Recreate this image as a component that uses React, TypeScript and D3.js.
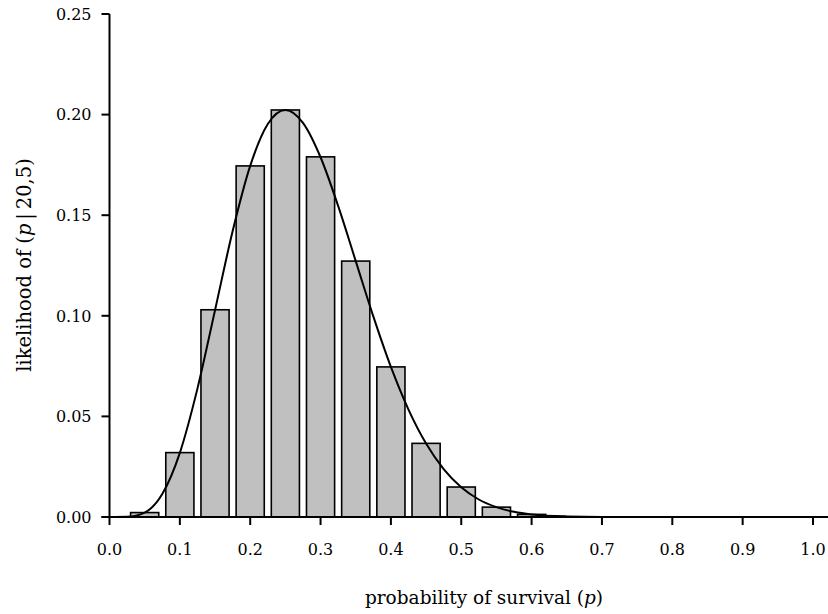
import React from 'react';
import * as d3 from 'd3';

// bar centres and heights (likelihood at each p)
const barP = [0.05, 0.1, 0.15, 0.2, 0.25, 0.3, 0.35, 0.4, 0.45, 0.5, 0.55, 0.6];
const barL = [0.0022, 0.032, 0.103, 0.1745, 0.2023, 0.179, 0.1272, 0.0746, 0.0366, 0.0149, 0.0049, 0.0013];

// smooth likelihood curve
const curveP = [0, 0.025, 0.05, 0.075, 0.1, 0.125, 0.15, 0.175, 0.2, 0.225, 0.25, 0.275, 0.3, 0.325, 0.35,
  0.375, 0.4, 0.425, 0.45, 0.475, 0.5, 0.525, 0.55, 0.575, 0.6, 0.65, 0.7, 0.8, 0.9, 1.0];
const curveL = [0, 0.0001, 0.0022, 0.0114, 0.0319, 0.0638, 0.1028, 0.142, 0.1745, 0.1953, 0.2023, 0.1959,
  0.1788, 0.1546, 0.1272, 0.0997, 0.0746, 0.0534, 0.0365, 0.0238, 0.0148, 0.0087, 0.0049, 0.0026, 0.0013,
  0.0003, 0.00004, 0, 0, 0];

const xTicks = [0, 0.1, 0.2, 0.3, 0.4, 0.5, 0.6, 0.7, 0.8, 0.9, 1.0];
const yTicks = [0, 0.05, 0.1, 0.15, 0.2, 0.25];

const W = 828;
const H = 614;
const font = '"DejaVu Serif", "Liberation Serif", serif';

export default function App() {
  const x = d3.scaleLinear().domain([0, 1]).range([109.5, 813]);
  const y = d3.scaleLinear().domain([0, 0.25]).range([517, 14]);
  const bw = x(0.04) - x(0);

  const line = d3.line<number>()
    .x((d, i) => x(curveP[i]))
    .y((d) => y(d))
    .curve(d3.curveMonotoneX);

  return (
    <svg width={W} height={H} style={{ position: 'absolute', left: 0, top: 0 }}>
      <rect width={W} height={H} fill="#fff" />
      {barP.map((p, i) => (
        <rect key={i} x={x(p) - bw / 2} y={y(barL[i])} width={bw} height={y(0) - y(barL[i])}
          fill="#c0c0c0" stroke="#000" strokeWidth={1.6} />
      ))}
      <path d={line(curveL) || ''} fill="none" stroke="#000" strokeWidth={2} />

      {/* y axis */}
      <line x1={x(0)} x2={x(0)} y1={y(0.25)} y2={y(0)} stroke="#000" strokeWidth={2} />
      {yTicks.map((t) => (
        <g key={t}>
          <line x1={x(0) - 8} x2={x(0)} y1={y(t)} y2={y(t)} stroke="#000" strokeWidth={2} />
          <text x={x(0) - 18} y={y(t)} dy="0.36em" textAnchor="end" fontFamily={font} fontSize={16}>
            {d3.format('.2f')(t)}
          </text>
        </g>
      ))}

      {/* x axis */}
      <line x1={x(0) - 8} x2={828} y1={y(0)} y2={y(0)} stroke="#000" strokeWidth={2} />
      {xTicks.map((t) => (
        <g key={t}>
          <line x1={x(t)} x2={x(t)} y1={y(0)} y2={y(0) + 8} stroke="#000" strokeWidth={2} />
          <text x={x(t)} y={y(0) + 38} textAnchor="middle" fontFamily={font} fontSize={16}>
            {d3.format('.1f')(t)}
          </text>
        </g>
      ))}

      <text x={484} y={604} textAnchor="middle" fontFamily={font} fontSize={18.5}>
        probability of survival (<tspan fontStyle="italic">p</tspan>)
      </text>
      <text transform="translate(31,265) rotate(-90)" textAnchor="middle" fontFamily={font} fontSize={19.5}>
        likelihood of (<tspan fontStyle="italic">p</tspan>{'\u2009|\u2009'}20,5)
      </text>
    </svg>
  );
}
